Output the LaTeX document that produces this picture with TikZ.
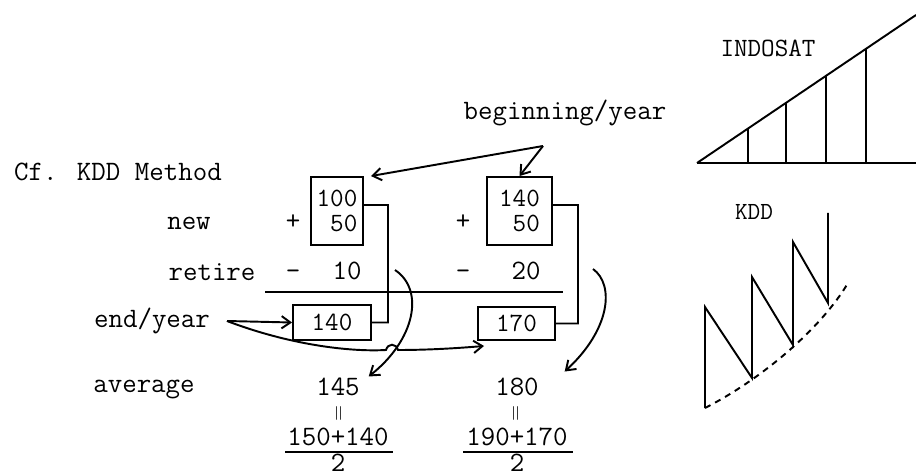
\documentclass[tikz,border=0pt]{standalone}
\usepackage{fontspec}
\usetikzlibrary{arrows.meta}

\begin{document}
\begin{tikzpicture}[x=0.02cm, y=-0.02cm, line width=1.1pt,
    txt/.style={inner sep=0pt, anchor=base, font=\fontsize{16}{16}\selectfont\ttfamily},
    numbox/.style={draw, inner sep=0pt, align=right, font=\fontsize{15}{14.5}\selectfont\ttfamily},
    arr/.style={-{Straight Barb[length=5pt, width=7pt]}},
    eqsign/.style={inner sep=0pt, rotate=90, font=\fontsize{12}{12}\selectfont}]
    \useasboundingbox (0,0) rectangle (916,476);

    % Row labels
    \node[txt] (title) at (118,181) {Cf. KDD Method};
    \node[txt] (new) at (189,230) {new};
    \node[txt] (retire) at (212,280) {retire};
    \node[txt] (endyear) at (152,327) {end/year};
    \node[txt] (average) at (144,392) {average};
    \node[txt] (begin) at (565,120) {beginning/year};

    % Beginning of year boxes
    \node[numbox, minimum width=1.04cm, minimum height=1.36cm] (b1) at (337,211) {100\\50};
    \node[numbox, minimum width=1.30cm, minimum height=1.36cm] (b2) at (519.5,211) {140\\ 50};
    \node[txt] (plusA) at (293,230) {+};
    \node[txt] (plusB) at (463,230) {+};

    % Retirements
    \node[txt] (minA) at (293,279) {-};
    \node[txt] (minB) at (463,279) {-};
    \node[txt] (r10) at (347,279) {10};
    \node[txt] (r20) at (526,279) {20};
    \draw (265,292) -- (563,292);

    % End of year boxes
    \node[numbox, minimum width=1.56cm, minimum height=0.70cm] (e140) at (332,322.5) {140};
    \node[numbox, minimum width=1.54cm, minimum height=0.66cm] (e170) at (516.5,323.5) {170};

    % Averages
    \node[txt] (a145) at (338,395) {145};
    \node[txt] (a180) at (517,395) {180};
    \node[eqsign] (eqA) at (340,413) {=};
    \node[eqsign] (eqB) at (517,413) {=};
    \node[txt, inner sep=2pt] (fA) at (338,445) {150+140};
    \node[txt, inner sep=2pt] (fB) at (517,445) {190+170};
    \node[txt] (dA) at (338,471) {2};
    \node[txt] (dB) at (517,471) {2};
    \draw (285,452) -- (393,452);
    \draw (463,452) -- (573,452);

    % Box links
    \draw ([yshift=0.12cm]b1.east) -- (388,205) |- (e140.east);
    \draw ([yshift=0.12cm]b2.east) -- (578,205) |- (e170.east);

    % Arrows from beginning/year
    \coordinate (apex) at (543,146);
    \draw[arr] (apex) -- ([xshift=0.14cm]b1.north east);
    \draw[arr] (apex) -- (b2.north);

    % Arrows from end/year
    \coordinate (fork) at (227,321);
    \draw[arr] (fork) -- (e140.west);
    \draw[arr] (fork) .. controls (290,345) and (350,352) .. (386,350)
        .. controls (388,343) and (396,343) .. (398,350)
        .. controls (430,350) and (460,348) .. ([shift={(7,5)}]e170.south west);

    % Curved arrows down to averages
    \draw[arr] (395,270) .. controls (425,290) and (415,340) .. ([xshift=0.16cm]a145.north east);
    \draw[arr] (593,269) .. controls (615,285) and (610,330) .. ([xshift=0.5cm, yshift=0.1cm]a180.north east);

    % INDOSAT sketch
    \node[txt, font=\fontsize{15}{15}\selectfont\ttfamily] (indosat) at (768,57) {INDOSAT};
    \draw (697,163) -- (916,163);
    \draw (697,163) -- (916,15);
    \foreach \x in {748,786,826,866}
        \draw (\x,163) -- (\x,{163-(\x-697)*0.6727});

    % KDD sketch
    \node[txt, font=\fontsize{14}{14}\selectfont\ttfamily] (kdd) at (754,220) {KDD};
    \draw (705,408) -- (705,307) -- (752,378) -- (752,277) -- (793,345)
        -- (793,242) -- (828,303) -- (828,213);
    \draw[dash pattern=on 3.5pt off 3pt] (705,408) .. controls (760,380) and (820,330) .. (848,283);

\end{tikzpicture}
\end{document}
